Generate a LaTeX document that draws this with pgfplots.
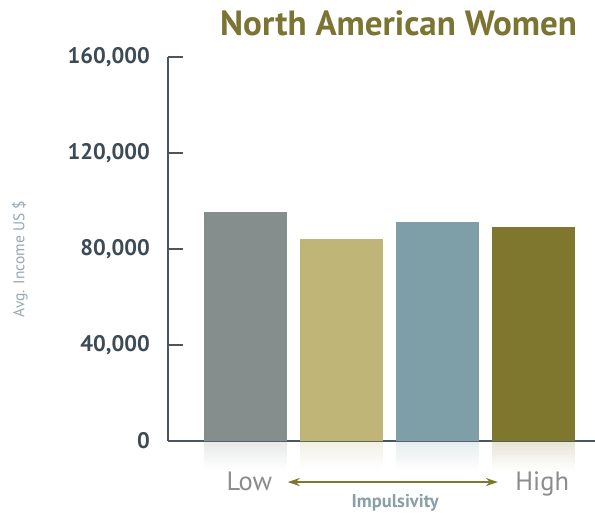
\documentclass[border=0pt]{standalone}
\usepackage{pgfplots}
\pgfplotsset{compat=1.18}
\usepackage{fontspec}
\setmainfont{PT Sans}
\usetikzlibrary{fadings,arrows.meta}
\definecolor{barA}{HTML}{858E8C}
\definecolor{barB}{HTML}{BEB577}
\definecolor{barC}{HTML}{7F9FA8}
\definecolor{barD}{HTML}{80772F}
\definecolor{titlec}{HTML}{7B7432}
\definecolor{tickc}{HTML}{3D4B57}
\definecolor{axisc}{HTML}{4B5560}
\definecolor{ylabc}{HTML}{94A8B3}
\definecolor{lowc}{HTML}{8C8C8C}
\definecolor{impc}{HTML}{8A9EA8}
\begin{document}
\begin{tikzpicture}
\path[use as bounding box] (0,0) rectangle (595pt,512pt);
\begin{axis}[
  at={(168pt,71pt)}, anchor=south west,
  scale only axis, width=427pt, height=384pt,
  xmin=-0.807, xmax=3.64, ymin=0, ymax=160000,
  axis lines=left, axis line style={-, color=axisc, line width=1.6pt},
  ytick={0,40000,80000,120000,160000},
  yticklabels={0,{40,000},{80,000},{120,000},{160,000}},
  scaled y ticks=false,
  yticklabel style={font=\fontsize{22.5}{22.5}\selectfont\bfseries, color=tickc, inner sep=0pt, xshift=-18pt},
  tick align=inside,
  ytick style={color=axisc, line width=1.6pt},
  major tick length=15pt,
  xtick={0.04,3.09}, xticklabels={Low,High},
  x tick style={draw=none},
  xticklabel style={font=\fontsize{26.5}{26.5}\selectfont, color=lowc, anchor=base, yshift=-34pt},
  title={North American Women},
  title style={font=\fontsize{35}{35}\selectfont\bfseries, color=titlec, at={(axis description cs:0.54,1)}, anchor=base, yshift=15pt},
  ylabel={Avg. Income US \$},
  ylabel style={font=\fontsize{15.5}{15.5}\selectfont, color=ylabc, at={(axis description cs:-0.347,0.474)}, anchor=center, rotate=0},
  xlabel={Impulsivity},
  xlabel style={font=\fontsize{18.5}{18.5}\selectfont\bfseries, color=impc, inner sep=1pt, at={(axis description cs:0.532,-0.173)}, anchor=base},
  clip=false,
  ybar, bar width=0.865, bar shift=0pt,
]
\addplot[fill=barA, draw=none] coordinates {(0,95600)};
\addplot[fill=barB, draw=none] coordinates {(1,84200)};
\addplot[fill=barC, draw=none] coordinates {(2,91200)};
\addplot[fill=barD, draw=none] coordinates {(3,89200)};
% faint reflections
\addplot[fill=barA, draw=none, fill opacity=0.2, path fading=south] coordinates {(0,-12000)};
\addplot[fill=barB, draw=none, fill opacity=0.2, path fading=south] coordinates {(1,-12000)};
\addplot[fill=barC, draw=none, fill opacity=0.2, path fading=south] coordinates {(2,-12000)};
\addplot[fill=barD, draw=none, fill opacity=0.2, path fading=south] coordinates {(3,-12000)};
\draw[barD, line width=2.5pt, {Stealth[length=12pt,width=8pt]}-{Stealth[length=12pt,width=8pt]}] (axis cs:0.44,-17100) -- (axis cs:2.63,-17100);
\end{axis}
\end{tikzpicture}
\end{document}
